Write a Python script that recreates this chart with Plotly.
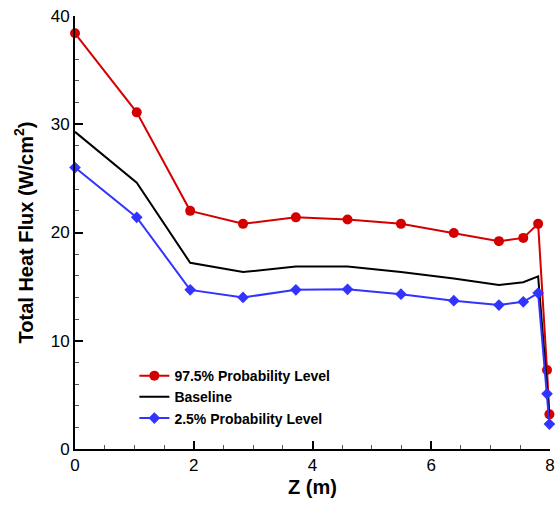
import plotly.graph_objects as go

z_pts = [0.0, 1.04, 1.94, 2.83, 3.72, 4.59, 5.49, 6.38, 7.14, 7.55, 7.80, 7.95, 7.99]
upper = [38.4, 31.1, 22.0, 20.8, 21.4, 21.2, 20.8, 19.95, 19.2, 19.5, 20.8, 7.3, 3.2]
baseline = [29.3, 24.6, 17.2, 16.35, 16.85, 16.85, 16.35, 15.75, 15.15, 15.4, 15.95, 6.0, 3.0]
lower = [26.0, 21.4, 14.7, 14.0, 14.7, 14.75, 14.3, 13.7, 13.3, 13.6, 14.4, 5.1, 2.3]

names = ["97.5% Probability Level", "Baseline", "2.5% Probability Level"]

fig = go.Figure()
fig.add_trace(go.Scatter(x=z_pts, y=upper, name=names[0], mode="lines+markers",
                         line=dict(color="#d40000", width=2), cliponaxis=False,
                         marker=dict(symbol="circle", size=10, color="#d40000")))
fig.add_trace(go.Scatter(x=z_pts, y=baseline, name=names[1], mode="lines",
                         line=dict(color="black", width=2), cliponaxis=False))
fig.add_trace(go.Scatter(x=z_pts, y=lower, name=names[2], mode="lines+markers",
                         line=dict(color="#3333ff", width=2), cliponaxis=False,
                         marker=dict(symbol="diamond", size=9, color="#3333ff")))

fig.update_layout(
    width=557, height=505,
    margin=dict(l=75, r=7, t=16, b=56),
    plot_bgcolor="white", paper_bgcolor="white",
    font=dict(family="Liberation Sans, Arial, sans-serif", color="black"),
    showlegend=True,
    legend=dict(x=0.125, y=0.12, xanchor="left", yanchor="middle",
                bgcolor="rgba(0,0,0,0)",
                font=dict(size=14, family="Liberation Sans, Arial", weight="bold"),
                tracegroupgap=0),
)
fig.update_xaxes(
    range=[0, 8], dtick=2, tick0=0, showgrid=False, zeroline=False,
    showline=True, linecolor="black", linewidth=2,
    ticks="inside", ticklen=8, tickwidth=2, tickcolor="black",
    tickfont=dict(size=17), ticklabeloverflow="allow", automargin=False,
    minor=dict(dtick=0.5, ticks="inside", ticklen=4, tickwidth=1, tickcolor="#555"),
    title=dict(text="<b>Z (m)</b>", font=dict(size=20), standoff=6),
)
fig.update_yaxes(
    range=[0, 40], dtick=10, tick0=0, showgrid=False, zeroline=False,
    showline=True, linecolor="black", linewidth=2,
    ticks="inside", ticklen=8, tickwidth=2, tickcolor="black",
    tickfont=dict(size=17), ticklabeloverflow="allow", automargin=False,
    minor=dict(dtick=2, ticks="inside", ticklen=4, tickwidth=1, tickcolor="#555"),
    title=dict(text="<b>Total Heat Flux (W/cm<sup>2</sup>)</b>", font=dict(size=20), standoff=12),
)

fig.write_html("out.html", config={"displayModeBar": False},
               post_script="document.body.style.margin='0';document.body.style.overflow='hidden';")
